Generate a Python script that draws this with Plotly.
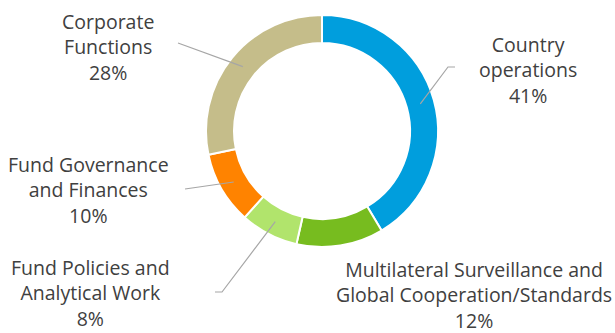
import math
import plotly.graph_objects as go

categories = ["Country operations", "Multilateral Surveillance and Global Cooperation/Standards",
              "Fund Policies and Analytical Work", "Fund Governance and Finances", "Corporate Functions"]
values = [41, 12, 8, 10, 28]
label_text = ["Country<br>operations", "Multilateral Surveillance and<br>Global Cooperation/Standards",
              "Fund Policies and<br>Analytical Work", "Fund Governance<br>and Finances", "Corporate<br>Functions"]
colors = ["#009EDD", "#77BC1F", "#B1E46C", "#FF8300", "#C5BD8A"]

W, H = 615, 333
cx, cy, R, r_in = 322, 131, 116, 88

# label placement (pixel centers) and leader-line elbows (None = no leader)
label_pos = [(528, 70), (474, 295), (90, 293), (88, 190), (108, 47)]
leader_elbow = [[(455, 67), (448, 67)], None, [(215, 292), (222, 292)], [(185, 189)], [(178, 43)]]

fig = go.Figure()
fig.add_trace(go.Pie(
    labels=categories, values=values, sort=False, direction="clockwise", rotation=0,
    hole=r_in / R, marker=dict(colors=colors, line=dict(color="white", width=2)),
    textinfo="none", hoverinfo="label+percent", showlegend=False,
    domain=dict(x=[(cx - R) / W, (cx + R) / W], y=[1 - (cy + R) / H, 1 - (cy - R) / H]),
))

total = sum(values)
cum = 0
rm = (R + r_in) / 2
for i, v in enumerate(values):
    mid = (cum + v / 2) / total * 2 * math.pi
    cum += v
    px, py = cx + rm * math.sin(mid), cy - rm * math.cos(mid)
    if leader_elbow[i]:
        pts = leader_elbow[i] + [(px, py)]
        path = "M " + " L ".join(f"{x},{y}" for x, y in pts)
        fig.add_shape(type="path", path=path, xref="x", yref="y",
                      line=dict(color="#A6A6A6", width=1.2))
    fig.add_annotation(x=label_pos[i][0], y=label_pos[i][1], xref="x", yref="y",
                       text=f"{label_text[i]}<br>{v}%", showarrow=False,
                       font=dict(family="Open Sans", size=19.5, color="#404040"),
                       align="center", xanchor="center", yanchor="middle")

fig.update_layout(
    width=W, height=H, margin=dict(l=0, r=0, t=0, b=0),
    paper_bgcolor="white", plot_bgcolor="rgba(0,0,0,0)",
    xaxis=dict(range=[0, W], visible=False, fixedrange=True),
    yaxis=dict(range=[H, 0], visible=False, fixedrange=True),
)
fig.write_html("out.html")
